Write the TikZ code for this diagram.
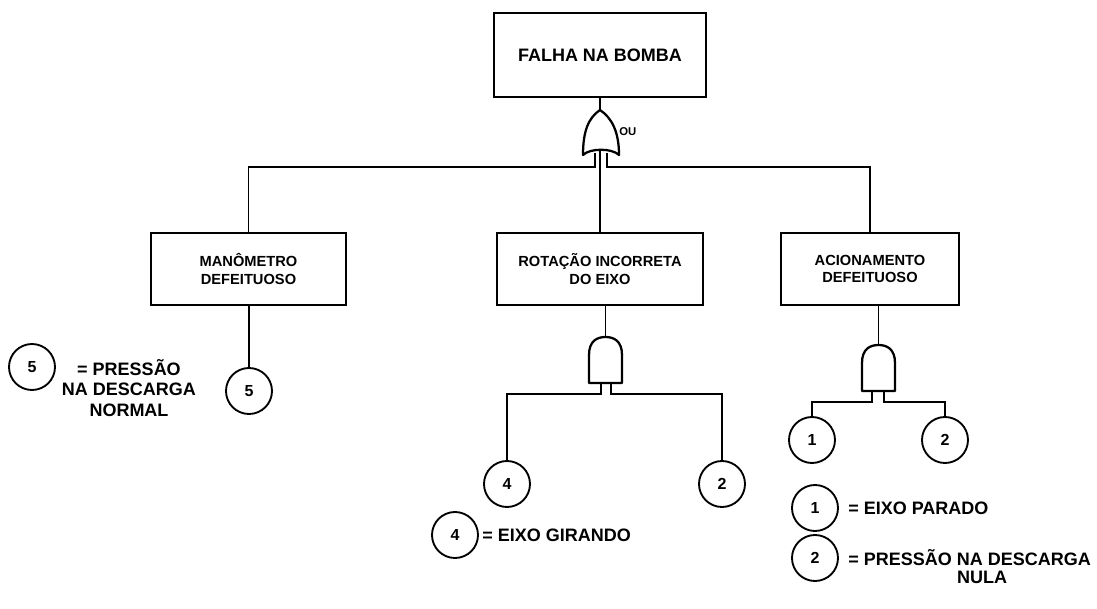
\documentclass[tikz,border=0pt]{standalone}
\usepackage{fontspec}
\setmainfont{Liberation Sans}
\begin{document}
\begin{tikzpicture}[x=0.75pt,y=-0.75pt,
 box/.style={draw,line width=1.1pt,inner sep=0pt,font=\bfseries\fontsize{11}{13}\selectfont,align=center},
 ev/.style={draw,circle,line width=1.4pt,minimum size=34.5pt,inner sep=0pt,font=\bfseries\fontsize{12}{14}\selectfont},
 wire/.style={line width=0.9pt},
 gate/.style={line width=1.7pt,line join=round},
 leg/.style={font=\bfseries\fontsize{13.5}{15.4}\selectfont,align=center,inner sep=0pt}]
\useasboundingbox (0,0) rectangle (1097,609);
% boxes
\node[box,minimum width=159pt,minimum height=63pt,font=\bfseries\fontsize{13.5}{16}\selectfont] (top) at (600,55) {FALHA NA BOMBA};
\node[box,minimum width=146.25pt,minimum height=54pt] (mb) at (248.5,269) {MANÔMETRO\\DEFEITUOSO};
\node[box,minimum width=154.5pt,minimum height=54pt] (rb) at (600,269) {ROTAÇÃO INCORRETA\\DO EIXO};
\node[box,minimum width=133.5pt,minimum height=54pt] (ab) at (870,269) {ACIONAMENTO\\DEFEITUOSO};
% OR gate
\coordinate (orT) at (600,110);
\coordinate (orLl) at (595,153);
\coordinate (orC) at (600,150);
\coordinate (orLr) at (607,153);
\draw[gate] (orT) .. controls (588,118) and (583,132) .. (583,155)
  .. controls (590,148) and (612,148) .. (619,155)
  .. controls (619,132) and (612,118) .. (orT) -- cycle;
\node[font=\bfseries\fontsize{8.5}{9}\selectfont,anchor=west,inner sep=0pt] (ou) at (619,132) {OU};
\draw[wire] (top.south) -- (orT);
\draw[wire] (orLl) -- (orLl |- 0,167) -| (mb.north);
\draw[wire] (orC) -- (rb.north);
\draw[wire] (orLr) -- (orLr |- 0,167) -| (ab.north);
% middle AND gate
\coordinate (gMt) at (605.5,337);
\coordinate (gMl) at (601,383);
\coordinate (gMr) at (611,383);
\draw[gate] (589,383) -- (589,355) .. controls (589,341) and (597,337) .. (gMt)
  .. controls (614,337) and (622,341) .. (622,355) -- (622,383) -- cycle;
\draw[wire] (gMt) -- (gMt |- rb.south);
% right AND gate
\coordinate (gRt) at (878.5,345);
\coordinate (gRl) at (872,391);
\coordinate (gRr) at (884,391);
\draw[gate] (862,391) -- (862,363) .. controls (862,349) and (870,345) .. (gRt)
  .. controls (887,345) and (895,349) .. (895,363) -- (895,391) -- cycle;
\draw[wire] (gRt) -- (gRt |- ab.south);
% events
\node[ev] (c5) at (249,391) {5};
\node[ev] (c4) at (507,484) {4};
\node[ev] (c2m) at (722,484) {2};
\node[ev] (c1) at (812,440) {1};
\node[ev] (c2r) at (945,440) {2};
\draw[wire] (c5.north) -- (c5.north |- mb.south);
\draw[wire] (gMl) -- (gMl |- 0,394) -| (c4.north);
\draw[wire] (gMr) -- (gMr |- 0,394) -| (c2m.north);
\draw[wire] (gRl) -- (gRl |- 0,402) -| (c1.north);
\draw[wire] (gRr) -- (gRr |- 0,402) -| (c2r.north);
% legends
\node[ev] (l5) at (32,367) {5};
\node[leg] (t5) at (129,388) {= PRESSÃO\\NA DESCARGA\\NORMAL};
\node[ev] (l4) at (455,535) {4};
\node[leg,anchor=west] (t4) at (482,535) {= EIXO GIRANDO};
\node[ev] (l1) at (815,508) {1};
\node[leg,anchor=west] (t1) at (848,508) {= EIXO PARADO};
\node[ev] (l2) at (815,558) {2};
\node[leg,anchor=west] (t2) at (848,558) {= PRESSÃO NA DESCARGA};
\node[leg] (t2b) at (982,577) {NULA};
\end{tikzpicture}
\end{document}
